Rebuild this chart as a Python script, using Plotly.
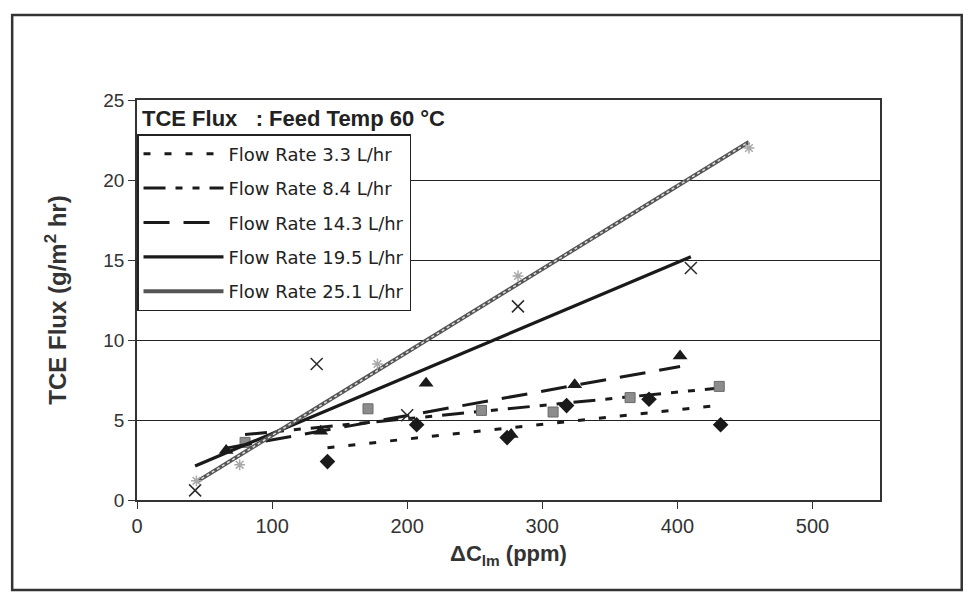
import numpy as np
import plotly.graph_objects as go

# ---- data ----
names = ["Flow Rate 3.3 L/hr", "Flow Rate 8.4 L/hr", "Flow Rate 14.3 L/hr",
         "Flow Rate 19.5 L/hr", "Flow Rate 25.1 L/hr"]

x_33 = [141, 207, 274, 318, 379, 432]
y_33 = [2.4, 4.7, 3.9, 5.9, 6.3, 4.7]

x_84 = [80, 171, 255, 308, 365, 431]
y_84 = [3.6, 5.7, 5.6, 5.5, 6.4, 7.1]

x_143 = [66, 136, 214, 277, 324, 402]
y_143 = [3.1, 4.3, 7.3, 4.1, 7.2, 9.0]

x_195 = [43, 133, 200, 282, 410]
y_195 = [0.6, 8.5, 5.3, 12.1, 14.5]

x_251 = [44, 76, 178, 282, 453]
y_251 = [1.2, 2.2, 8.5, 14.0, 22.0]

x_ticks = [0, 100, 200, 300, 400, 500]
y_ticks = [0, 5, 10, 15, 20, 25]

series_x = [x_33, x_84, x_143, x_195, x_251]
series_y = [y_33, y_84, y_143, y_195, y_251]

# ---- styles ----
markers = [
    dict(symbol="diamond", size=12, color="#1a1a1a"),
    dict(symbol="square", size=10, color="#8c8c8c", line=dict(color="#6a6a6a", width=1)),
    dict(symbol="triangle-up", size=13, color="#1a1a1a"),
    dict(symbol="x-thin-open", size=12, color="#2a2a2a", line=dict(color="#2a2a2a", width=1.5)),
    dict(symbol="asterisk-open", size=9, color="#a8a8a8", line=dict(color="#a8a8a8", width=1.5)),
]
lines = [
    dict(color="#1a1a1a", width=3, dash="7px,14px"),
    dict(color="#1a1a1a", width=3, dash="22px,10px,7px,10px,7px,10px"),
    dict(color="#1a1a1a", width=3, dash="26px,14px"),
    dict(color="#1a1a1a", width=3.2),
    dict(color="#555555", width=4),
]

FONT = "Liberation Sans, Arial"

fig = go.Figure()

for i in range(5):
    xs = np.array(series_x[i], dtype=float)
    ys = np.array(series_y[i], dtype=float)
    m, b = np.polyfit(xs, ys, 1)
    tx = np.array([xs.min(), xs.max()])
    ty = m * tx + b
    fig.add_trace(go.Scatter(x=tx, y=ty, mode="lines", name=names[i],
                             line=lines[i], legendgroup=f"g{i}", showlegend=True,
                             hoverinfo="skip"))
    if i == 4:
        fig.add_trace(go.Scatter(x=tx, y=ty, mode="lines",
                                 line=dict(color="#dddddd", width=1.5, dash="dot"),
                                 legendgroup=f"g{i}", showlegend=False, hoverinfo="skip"))
    fig.add_trace(go.Scatter(x=xs, y=ys, mode="markers", marker=markers[i],
                             name=names[i], legendgroup=f"g{i}", showlegend=False))

fig.add_annotation(text="<b>TCE Flux&nbsp;&nbsp;&nbsp;: Feed Temp 60 °C</b>",
                   xref="paper", yref="paper", x=0.004, y=0.955,
                   xanchor="left", yanchor="middle", showarrow=False,
                   font=dict(family=FONT, size=22, color="#222"))

# outer frame
fig.add_shape(type="rect", xref="paper", yref="paper",
              x0=-0.168, x1=1.110, y0=-0.225, y1=1.2125,
              line=dict(color="#333", width=2.5))

fig.update_layout(
    width=969, height=606,
    margin=dict(l=137, r=89, t=100, b=106),
    paper_bgcolor="white", plot_bgcolor="white",
    font=dict(family=FONT, size=16, color="#333"),
    showlegend=True,
    legend=dict(x=0.0, y=0.915, xanchor="left", yanchor="top",
                bgcolor="white", bordercolor="#222", borderwidth=1.5,
                font=dict(family="DejaVu Sans", size=18, color="#222"),
                traceorder="grouped", tracegroupgap=8, itemwidth=80),
    xaxis=dict(range=[0, 550], tickvals=x_ticks, ticks="outside", ticklen=7,
               tickcolor="#333", showgrid=False, zeroline=False,
               showline=True, linecolor="#333", linewidth=1.5, mirror=True,
               tickfont=dict(size=20, color="#333"),
               title=dict(text="<b>ΔC<sub>lm</sub> (ppm)</b>", standoff=10,
                          font=dict(size=22, color="#333"))),
    yaxis=dict(range=[0, 25], tickvals=y_ticks, ticks="outside", ticklen=7,
               tickcolor="#333", showgrid=True, gridcolor="#222", gridwidth=1.2,
               zeroline=False, showline=True, linecolor="#333", linewidth=1.5,
               mirror=True, tickfont=dict(size=19, color="#333"),
               title=dict(text="<b>TCE Flux (g/m<sup>2</sup> hr)</b>", standoff=30,
                          font=dict(size=24, color="#333"))),
)

fig.write_html("out.html")
